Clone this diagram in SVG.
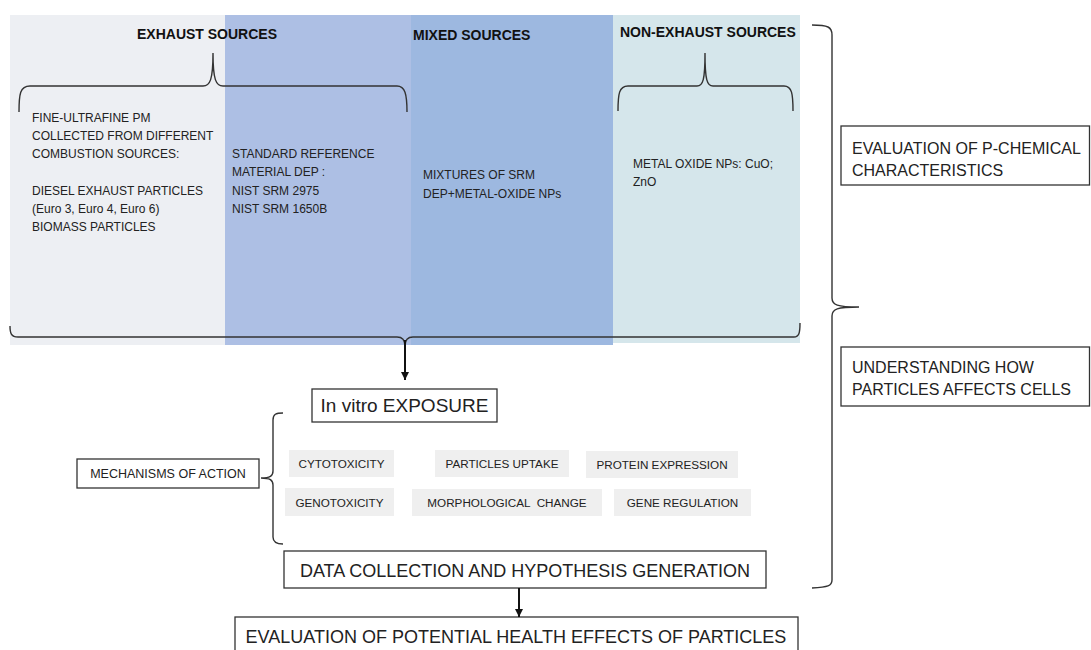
<svg xmlns="http://www.w3.org/2000/svg" width="1091" height="650" viewBox="0 0 1091 650">
<defs>
<style>
text{font-family:"Liberation Sans",Arial,sans-serif;fill:#222}
.hdr{font-size:14px;font-weight:bold;fill:#111}
.pt{font-size:12px}
.lab{font-size:11.7px;text-anchor:middle;white-space:pre}
.big{font-size:18px;text-anchor:middle}
.side{font-size:16px}
.box{fill:#fff;stroke:#333;stroke-width:1.3}
.gbox{fill:#efefef;stroke:none}
.br{fill:none;stroke:#333;stroke-width:1.4}
.con{fill:none;stroke:#111;stroke-width:2;marker-end:url(#ah)}
</style>
<marker id="ah" viewBox="0 0 10 10" refX="10" refY="5" markerWidth="4" markerHeight="4" orient="auto" markerUnits="strokeWidth">
<path d="M0,0 L10,5 L0,10 Z" fill="#111"/>
</marker>
</defs>
<rect width="1091" height="650" fill="#fff"/>

<g id="panels">
<rect x="10" y="15" width="215" height="330" fill="#edeff3"/>
<rect x="225" y="15" width="186" height="330" fill="#adbfe4"/>
<rect x="411" y="15" width="202" height="330" fill="#9db8e0"/>
<rect x="613" y="15" width="187" height="328" fill="#d5e6eb"/>
</g>

<g id="exhaust">
<text class="hdr" x="207" y="39" text-anchor="middle">EXHAUST SOURCES</text>
<path class="br" d="M19,112 C19,94 20,86 30,86 L203,86 C210,86 213,80 213,53 C213,80 216,86 223,86 L397,86 C405,86 407,94 407,112"/>
<text class="pt" x="32" y="122">FINE-ULTRAFINE PM</text>
<text class="pt" x="32" y="140">COLLECTED FROM DIFFERENT</text>
<text class="pt" x="32" y="158">COMBUSTION SOURCES:</text>
<text class="pt" x="32" y="195">DIESEL EXHAUST PARTICLES</text>
<text class="pt" x="32" y="213">(Euro 3, Euro 4, Euro 6)</text>
<text class="pt" x="32" y="231">BIOMASS PARTICLES</text>
<text class="pt" x="232" y="158">STANDARD REFERENCE</text>
<text class="pt" x="232" y="176">MATERIAL DEP :</text>
<text class="pt" x="232" y="195">NIST SRM 2975</text>
<text class="pt" x="232" y="213">NIST SRM 1650B</text>
</g>

<g id="mixed">
<text class="hdr" x="413" y="40">MIXED SOURCES</text>
<text class="pt" x="423" y="179">MIXTURES OF SRM</text>
<text class="pt" x="423" y="198">DEP+METAL-OXIDE NPs</text>
</g>

<g id="nonexhaust">
<text class="hdr" x="620" y="37">NON-EXHAUST SOURCES</text>
<path class="br" d="M618,111 C618,94 619,86 628,86 L697,86 C703,86 705,80 705,53 C705,80 707,86 713,86 L784,86 C792,86 793,94 793,111"/>
<text class="pt" x="633" y="168">METAL OXIDE NPs: CuO;</text>
<text class="pt" x="633" y="186">ZnO</text>
</g>

<g id="allbrace">
<path class="br" d="M10,326 C10,333 11,337 18,337 L397,337 C402,337 405,340 405,346 C405,340 408,337 413,337 L794,337 C799,337 800,333 800,323"/>
</g>

<g id="invitro">
<rect class="box" x="312" y="389" width="185" height="33"/>
<text class="big" x="404.5" y="412" style="font-size:19px">In vitro EXPOSURE</text>
</g>

<g id="mechanisms">
<rect class="box" x="77" y="459" width="182" height="29"/>
<text class="lab" x="168" y="478" style="font-size:12.5px">MECHANISMS OF ACTION</text>
<path class="br" d="M283,413 C276,413 273,414 273,420 L273,471 C273,476 270,478 261,478 C270,478 273,480 273,485 L273,537 C273,542 276,544 283,544"/>
</g>

<g id="cytotoxicity"><rect class="gbox" x="289" y="450" width="105" height="27"/><text class="lab" x="341.5" y="468">CYTOTOXICITY</text></g>
<g id="genotoxicity"><rect class="gbox" x="285" y="488" width="109" height="28"/><text class="lab" x="339.5" y="507">GENOTOXICITY</text></g>
<g id="uptake"><rect class="gbox" x="435" y="450" width="134" height="27"/><text class="lab" x="502" y="468">PARTICLES UPTAKE</text></g>
<g id="protein"><rect class="gbox" x="586" y="451" width="152" height="27"/><text class="lab" x="662" y="469">PROTEIN EXPRESSION</text></g>
<g id="morph"><rect class="gbox" x="412" y="489" width="190" height="27"/><text class="lab" x="507" y="507">MORPHOLOGICAL  CHANGE</text></g>
<g id="gene"><rect class="gbox" x="614" y="489" width="137" height="27"/><text class="lab" x="682.5" y="507">GENE REGULATION</text></g>

<g id="data">
<rect class="box" x="284" y="551" width="482" height="37"/>
<text class="big" x="525" y="577">DATA COLLECTION AND HYPOTHESIS GENERATION</text>
</g>

<g id="health">
<rect class="box" x="235" y="617" width="563" height="40"/>
<text class="big" x="516" y="643">EVALUATION OF POTENTIAL HEALTH EFFECTS OF PARTICLES</text>
</g>

<g id="pchem">
<rect class="box" x="841" y="126" width="248.5" height="59"/>
<text class="side" x="852" y="154">EVALUATION OF P-CHEMICAL</text>
<text class="side" x="852" y="176">CHARACTERISTICS</text>
</g>

<g id="understanding">
<rect class="box" x="841" y="347" width="248.5" height="59"/>
<text class="side" x="852" y="373">UNDERSTANDING HOW</text>
<text class="side" x="852" y="395">PARTICLES AFFECTS CELLS</text>
</g>

<g id="rightbrace">
<path class="br" d="M812,25 C828,25 832,27 832,35 L832,298 C832,305 837,307 859,307 M859,307 C837,307 832,309 832,316 L832,580 C832,586 828,587 812,588"/>
</g>

<g id="connectors">
<path class="con" d="M405,340 L405,380"/>
<path class="con" d="M519,588 L519,617"/>
</g>
</svg>
